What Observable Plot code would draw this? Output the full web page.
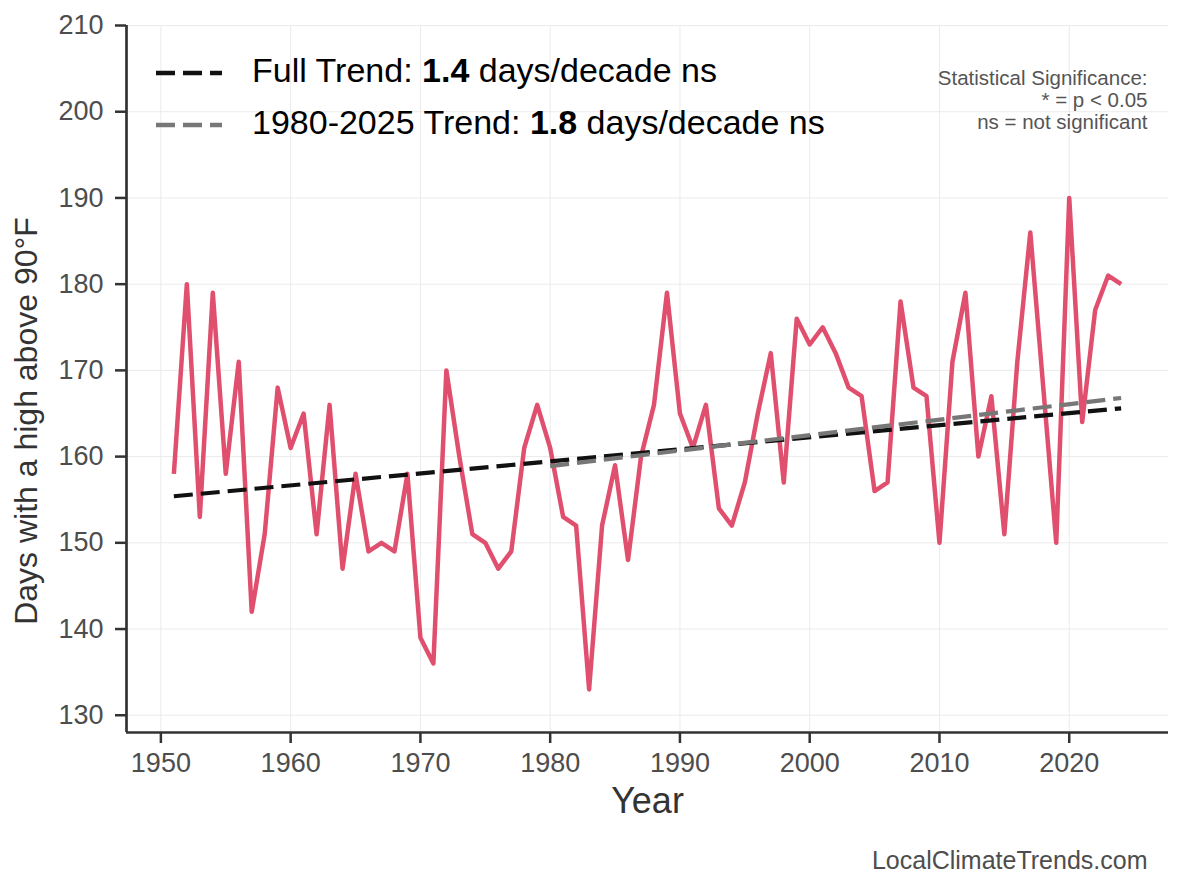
<!DOCTYPE html>
<html>
<head>
<meta charset="utf-8">
<script src="https://cdn.jsdelivr.net/npm/d3@7"></script>
<script src="https://cdn.jsdelivr.net/npm/@observablehq/plot@0.6"></script>
<style>
  body { margin: 0; background: #ffffff; }
  #chart { width: 1184px; height: 888px; }
</style>
</head>
<body>
<div id="chart"></div>
<script>
// Annual count of days with a high above 90°F
const years = [
  1951, 1952, 1953, 1954, 1955, 1956, 1957, 1958, 1959, 1960,
  1961, 1962, 1963, 1964, 1965, 1966, 1967, 1968, 1969, 1970,
  1971, 1972, 1973, 1974, 1975, 1976, 1977, 1978, 1979, 1980,
  1981, 1982, 1983, 1984, 1985, 1986, 1987, 1988, 1989, 1990,
  1991, 1992, 1993, 1994, 1995, 1996, 1997, 1998, 1999, 2000,
  2001, 2002, 2003, 2004, 2005, 2006, 2007, 2008, 2009, 2010,
  2011, 2012, 2013, 2014, 2015, 2016, 2017, 2018, 2019, 2020,
  2021, 2022, 2023, 2024
];
const hotDays = [
  158, 180, 153, 179, 158, 171, 142, 151, 168, 161,
  165, 151, 166, 147, 158, 149, 150, 149, 158, 139,
  136, 170, 160, 151, 150, 147, 149, 161, 166, 161,
  153, 152, 133, 152, 159, 148, 160, 166, 179, 165,
  161, 166, 154, 152, 157, 165, 172, 157, 176, 173,
  175, 172, 168, 167, 156, 157, 178, 168, 167, 150,
  171, 179, 160, 167, 151, 171, 186, 168, 150, 190,
  164, 177, 181, 180
];

// Linear trend end points (full record and 1980 onward)
const fullTrendYears = [1951, 2024];
const fullTrendDays = [155.4, 165.6];
const recentTrendYears = [1980, 2024];
const recentTrendDays = [158.9, 166.8];

// Legend entries
const legendNames = ["Full Trend: ", "1980-2025 Trend: "];
const legendRates = ["1.4", "1.8"];
const legendUnits = [" days/decade ns", " days/decade ns"];
const legendColors = ["#111111", "#777777"];

const xTicks = [1950, 1960, 1970, 1980, 1990, 2000, 2010, 2020];
const yTicks = [130, 140, 150, 160, 170, 180, 190, 200, 210];

const series = years.map((year, i) => ({ year, days: hotDays[i] }));
const fullTrend = fullTrendYears.map((year, i) => ({ year, days: fullTrendDays[i] }));
const recentTrend = recentTrendYears.map((year, i) => ({ year, days: recentTrendDays[i] }));

const xDomain = [1947.35, 2027.65];
const yDomain = [128, 210];
const font = "'Liberation Sans', Arial, Helvetica, sans-serif";
const dash = "19,8";

const chart = Plot.plot({
  width: 1184,
  height: 888,
  marginLeft: 126,
  marginRight: 16,
  marginTop: 25,
  marginBottom: 156,
  style: { fontFamily: font, fontSize: "27px", background: "#ffffff" },
  x: { domain: xDomain },
  y: { domain: yDomain },
  marks: [
    Plot.gridX(xTicks, { stroke: "#ebebeb", strokeOpacity: 1, strokeWidth: 1 }),
    Plot.gridY(yTicks, { stroke: "#ebebeb", strokeOpacity: 1, strokeWidth: 1 }),
    Plot.line(series, {
      x: "year", y: "days", stroke: "#E0506E", strokeWidth: 4.5,
      strokeLinejoin: "round", strokeLinecap: "butt"
    }),
    Plot.line(fullTrend, {
      x: "year", y: "days", stroke: legendColors[0], strokeWidth: 4.2,
      strokeDasharray: dash, strokeLinecap: "butt"
    }),
    Plot.line(recentTrend, {
      x: "year", y: "days", stroke: legendColors[1], strokeWidth: 4.2,
      strokeDasharray: dash, strokeLinecap: "butt"
    }),
    Plot.ruleY([yDomain[0]], { stroke: "#333333", strokeWidth: 2.7 }),
    Plot.ruleX([xDomain[0]], { stroke: "#333333", strokeWidth: 2.7 }),
    Plot.axisX(xTicks, {
      tickSize: 11, tickPadding: 9, fontSize: 27, tickFormat: d => String(d),
      stroke: "#333333", strokeWidth: 2.5, fill: "#4d4d4d", label: null
    }),
    Plot.axisY(yTicks, {
      tickSize: 11, tickPadding: 12, fontSize: 27, tickFormat: d => String(d),
      stroke: "#333333", strokeWidth: 2.5, fill: "#4d4d4d", label: null
    }),
    Plot.text(["Year"], {
      frameAnchor: "bottom", dy: 80, lineAnchor: "bottom",
      fontSize: 36, fill: "#333333"
    }),
    Plot.text(["Days with a high above 90°F"], {
      frameAnchor: "left", textAnchor: "middle", dx: -90, dy: 42, rotate: -90,
      lineAnchor: "bottom", fontSize: 32, fill: "#333333"
    }),
    Plot.text(["Statistical Significance:\n* = p < 0.05\nns = not significant"], {
      frameAnchor: "top-right", textAnchor: "end", lineAnchor: "top",
      dx: -21, dy: 44, fontSize: 20.5, lineHeight: 1.08, fill: "#555555"
    }),
    Plot.text(["LocalClimateTrends.com"], {
      frameAnchor: "bottom-right", textAnchor: "end", lineAnchor: "bottom",
      dx: -21, dy: 136, fontSize: 25, fill: "#4d4d4d"
    })
  ]
});

// Legend drawn inside the panel, top left
const svg = d3.select(chart);
const legend = svg.append("g")
  .attr("font-family", font)
  .attr("text-anchor", "start");
legendNames.forEach((name, i) => {
  const cy = 73 + i * 52;
  legend.append("line")
    .attr("x1", 156).attr("x2", 222)
    .attr("y1", cy).attr("y2", cy)
    .attr("stroke", legendColors[i])
    .attr("stroke-width", 4.5)
    .attr("stroke-dasharray", dash);
  const t = legend.append("text")
    .attr("x", 252).attr("y", cy + 9)
    .attr("text-anchor", "start")
    .attr("font-size", 34)
    .attr("fill", "#000000");
  t.append("tspan").text(name);
  t.append("tspan").attr("font-weight", "bold").text(legendRates[i]);
  t.append("tspan").text(legendUnits[i]);
});

document.getElementById("chart").appendChild(chart);
</script>
</body>
</html>
